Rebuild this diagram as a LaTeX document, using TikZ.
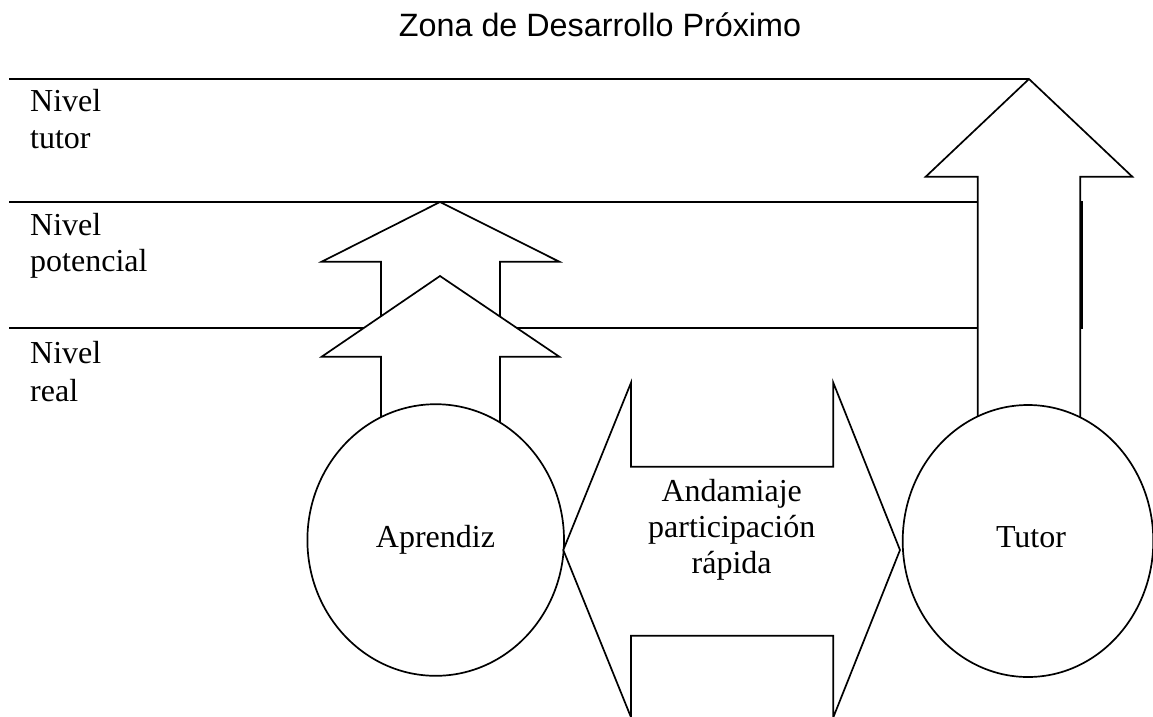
\documentclass[tikz,border=0pt]{standalone}
\usepackage{fontspec}
\setmainfont{Liberation Serif}
\newfontfamily\titlefont{Liberation Sans}
\usetikzlibrary{shapes.geometric}
\begin{document}
\begin{tikzpicture}[x=1pt,y=-1pt,
  ln/.style={draw=black, line width=1.7pt},
  shp/.style={draw=black, fill=white, line width=1.7pt, line join=miter},
  circ/.style={ellipse, draw=black, fill=white, line width=1.7pt, inner sep=0pt},
  lbl/.style={inner sep=0pt, font=\fontsize{32}{36}\selectfont, anchor=base},
  lblw/.style={lbl, anchor=base west},
  ttl/.style={inner sep=0pt, font=\titlefont\fontsize{32.3}{36}\selectfont, anchor=base}]
\useasboundingbox (0,0) rectangle (1153,716);
% title
\node[ttl] (title) at (600,36) {Zona de Desarrollo Próximo};
% level lines
\draw[ln] (9,79) -- (1029,79);
\draw[ln] (9,202) -- (1082,202) -- (1082,328) -- (9,328);
% level labels
\node[lblw] (n1a) at (30,111.7) {Nivel};
\node[lblw] (n1b) at (30,148) {tutor};
\node[lblw] (n2a) at (30,235) {Nivel};
\node[lblw] (n2b) at (30,271.7) {potencial};
\node[lblw] (n3a) at (30,363.3) {Nivel};
\node[lblw] (n3b) at (30,401.7) {real};
% aprendiz arrows
\filldraw[shp] (381,420) -- (381,261.7) -- (321.7,261.7) -- (440,202) -- (559.3,261.7) -- (500,261.7) -- (500,420) -- cycle;
\filldraw[shp] (381,440) -- (381,356.7) -- (321.7,356.7) -- (440,276) -- (559.3,356.7) -- (500,356.7) -- (500,440) -- cycle;
% tutor arrow
\filldraw[shp] (977.7,440) -- (977.7,176.7) -- (925.7,176.7) -- (1029,79) -- (1132.3,176.7) -- (1080.3,176.7) -- (1080.3,440) -- cycle;
% circles
\node[circ, minimum width=256.6pt, minimum height=271.6pt] (aprendiz) at (435.7,540) {};
\node[circ, minimum width=250.6pt, minimum height=272pt] (tutor) at (1028,541) {};
\node[lbl] (aprlbl) at (435.5,547) {Aprendiz};
\node[lbl] (tutlbl) at (1031,547) {Tutor};
% double arrow
\filldraw[shp] (563.3,550) -- (631,382.7) -- (631,466.7) -- (833.3,466.7) -- (833.3,382.7) -- (900,550) -- (833.3,717.3) -- (833.3,635.7) -- (631,635.7) -- (631,717.3) -- cycle;
\node[lbl] (and1) at (731.7,501.5) {Andamiaje};
\node[lbl] (and2) at (731.7,537) {participación};
\node[lbl] (and3) at (731.7,573.5) {rápida};
\end{tikzpicture}
\end{document}
